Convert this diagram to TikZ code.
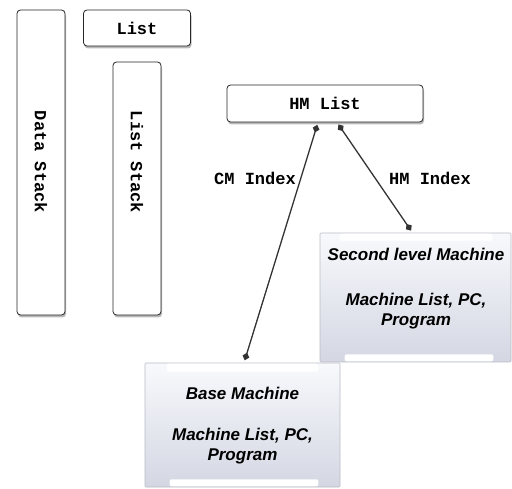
\documentclass[tikz,border=0pt]{standalone}
\usepackage{fontspec}
\setmainfont{Liberation Sans}
\setsansfont{Liberation Sans}
\setmonofont{Liberation Mono}
\usetikzlibrary{arrows.meta,shadows,calc}
\definecolor{mtop}{RGB}{248,249,252}
\definecolor{mbot}{RGB}{212,215,227}
\definecolor{mline}{RGB}{185,188,198}
\begin{document}
\begin{tikzpicture}[x=1pt,y=-1pt,
  box/.style={draw=black!85, line width=0.8pt, fill=white, rounded corners=3.5pt,
    drop shadow={shadow xshift=1pt,shadow yshift=-2.5pt,opacity=0.55},
    inner sep=0pt, font=\ttfamily\bfseries\fontsize{17}{19}\selectfont},
  vtext/.style={rotate=-90, font=\ttfamily\bfseries\fontsize{17}{19}\selectfont},
  mbox/.style={draw=mline, line width=0.6pt, top color=mtop, bottom color=mbot,
    rounded corners=1pt, inner sep=0pt},
  mtitle/.style={font=\sffamily\bfseries\itshape\fontsize{17}{19}\selectfont},
  mbody/.style={font=\sffamily\bfseries\itshape\fontsize{17}{20}\selectfont, align=center},
  tab/.style={fill=white, rounded corners=2pt},
  lbl/.style={font=\ttfamily\bfseries\fontsize{17}{19}\selectfont},
  conn/.style={line width=1.3pt, black!80,
    {Diamond[width=7pt,length=8pt]}-{Diamond[width=7pt,length=8pt]},
    shorten <=2.5pt, shorten >=2.5pt}
]
\useasboundingbox (0,0) rectangle (512,489);

% left stacks
\node[box, minimum width=48pt, minimum height=305pt] (ds) at (41,162.5) {};
\node[vtext] (dst) at (41,162) {Data Stack};
\node[box, minimum width=107pt, minimum height=36pt] (list) at (137,28) {List};
\node[box, minimum width=48pt, minimum height=253pt] (ls) at (137,188.5) {};
\node[vtext] (lst) at (137,162) {List Stack};

% HM List
\node[box, minimum width=196pt, minimum height=37pt] (hm) at (325,103.5) {HM List};

% machine boxes
\node[mbox, minimum width=191pt, minimum height=129pt] (second) at (415.5,297.5) {};
\fill[tab] ($(second.north west)+(20,1)$) rectangle ($(second.north east)+(-19,8)$);
\fill[tab] ($(second.south west)+(25,-8)$) rectangle ($(second.south east)+(-18,-1)$);
\node[mtitle] (st) at (416,254) {Second level Machine};
\node[mbody] (sb) at (416,311) {Machine List, PC,\\Program};

\node[mbox, minimum width=195pt, minimum height=124pt] (base) at (242.5,425) {};
\fill[tab] ($(base.north west)+(22,1)$) rectangle ($(base.north east)+(-22,9)$);
\fill[tab] ($(base.south west)+(25,-8)$) rectangle ($(base.south east)+(-22,-1)$);
\node[mtitle] (bt) at (242.5,393) {Base Machine};
\node[mbody] (bb) at (242.5,446.5) {Machine List, PC,\\Program};

% connectors
\draw[conn] ([xshift=-7pt]hm.south) -- ([xshift=1.5pt]base.north);
\draw[conn] ([xshift=12pt]hm.south) -- ([xshift=-3pt]second.north);

\node[lbl] (cml) at (255,178) {CM Index};
\node[lbl] (hml) at (430,178) {HM Index};
\end{tikzpicture}
\end{document}
